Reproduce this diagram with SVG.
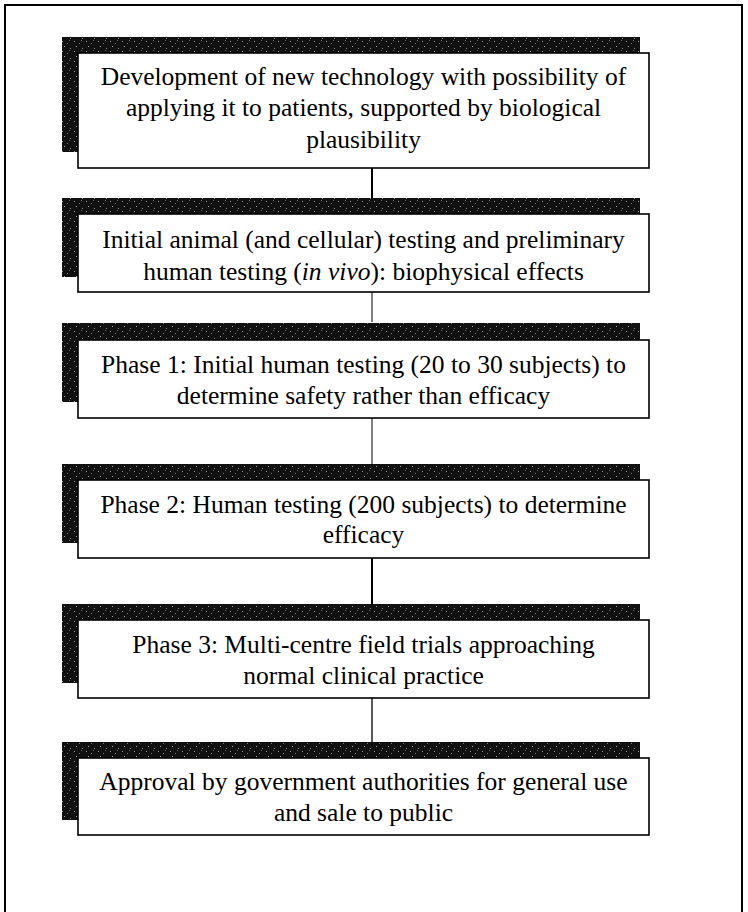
<svg xmlns="http://www.w3.org/2000/svg" width="748" height="912" viewBox="0 0 748 912">
<defs>
<pattern id="spk" width="12" height="10" patternUnits="userSpaceOnUse">
<rect width="12" height="10" fill="#111"/>
<rect x="2" y="1" width="1" height="1" fill="#999"/>
<rect x="7" y="3" width="1" height="1" fill="#777"/>
<rect x="4" y="6" width="1" height="1" fill="#aaa"/>
<rect x="10" y="8" width="1" height="1" fill="#888"/>
<rect x="9" y="0" width="1" height="1" fill="#666"/>
</pattern>
<style>
.sh{fill:url(#spk);}
.bx{fill:#fff;stroke:#000;stroke-width:1.6;}
.t{font-family:"Liberation Serif","Times New Roman",serif;font-size:25.5px;fill:#000;text-anchor:middle;}
.c{stroke:#000;fill:none;}
.fr{fill:none;stroke:#000;stroke-width:2;}
</style>
</defs>
<rect width="748" height="912" fill="#fff"/>
<path class="fr" d="M5,920 V5 H742 V920"/>
<g id="connectors">
<line class="c" x1="372" y1="168" x2="372" y2="198" stroke-width="2"/>
<line class="c" x1="372" y1="292" x2="372" y2="322" stroke-width="1"/>
<line class="c" x1="372" y1="418" x2="372" y2="464" stroke-width="1"/>
<line class="c" x1="372" y1="558" x2="372" y2="604" stroke-width="2"/>
<line class="c" x1="372" y1="698" x2="372" y2="742" stroke-width="1.3"/>
</g>
<g id="n1">
<rect class="sh" x="62" y="37" width="578" height="115"/>
<rect class="bx" x="78" y="53" width="571" height="115"/>
<text class="t" x="363.5" y="85">Development of new technology with possibility of</text>
<text class="t" x="363.5" y="116">applying it to patients, supported by biological</text>
<text class="t" x="363.5" y="148">plausibility</text>
</g>
<g id="n2">
<rect class="sh" x="62" y="198" width="578" height="79"/>
<rect class="bx" x="78" y="214" width="571" height="78"/>
<text class="t" x="363.5" y="248">Initial animal (and cellular) testing and preliminary</text>
<text class="t" x="363.5" y="280">human testing (<tspan font-style="italic">in vivo</tspan>): biophysical effects</text>
</g>
<g id="n3">
<rect class="sh" x="62" y="323" width="578" height="79"/>
<rect class="bx" x="78" y="340" width="571" height="78"/>
<text class="t" x="363.5" y="373">Phase 1: Initial human testing (20 to 30 subjects) to</text>
<text class="t" x="363.5" y="404">determine safety rather than efficacy</text>
</g>
<g id="n4">
<rect class="sh" x="62" y="464" width="578" height="79"/>
<rect class="bx" x="78" y="480" width="571" height="78"/>
<text class="t" x="363.5" y="513">Phase 2: Human testing (200 subjects) to determine</text>
<text class="t" x="363.5" y="543">efficacy</text>
</g>
<g id="n5">
<rect class="sh" x="62" y="604" width="578" height="79"/>
<rect class="bx" x="78" y="620" width="571" height="78"/>
<text class="t" x="363.5" y="653">Phase 3: Multi-centre field trials approaching</text>
<text class="t" x="363.5" y="684">normal clinical practice</text>
</g>
<g id="n6">
<rect class="sh" x="62" y="742" width="578" height="78"/>
<rect class="bx" x="78" y="758" width="571" height="77"/>
<text class="t" x="363.5" y="790">Approval by government authorities for general use</text>
<text class="t" x="363.5" y="821">and sale to public</text>
</g>
</svg>
